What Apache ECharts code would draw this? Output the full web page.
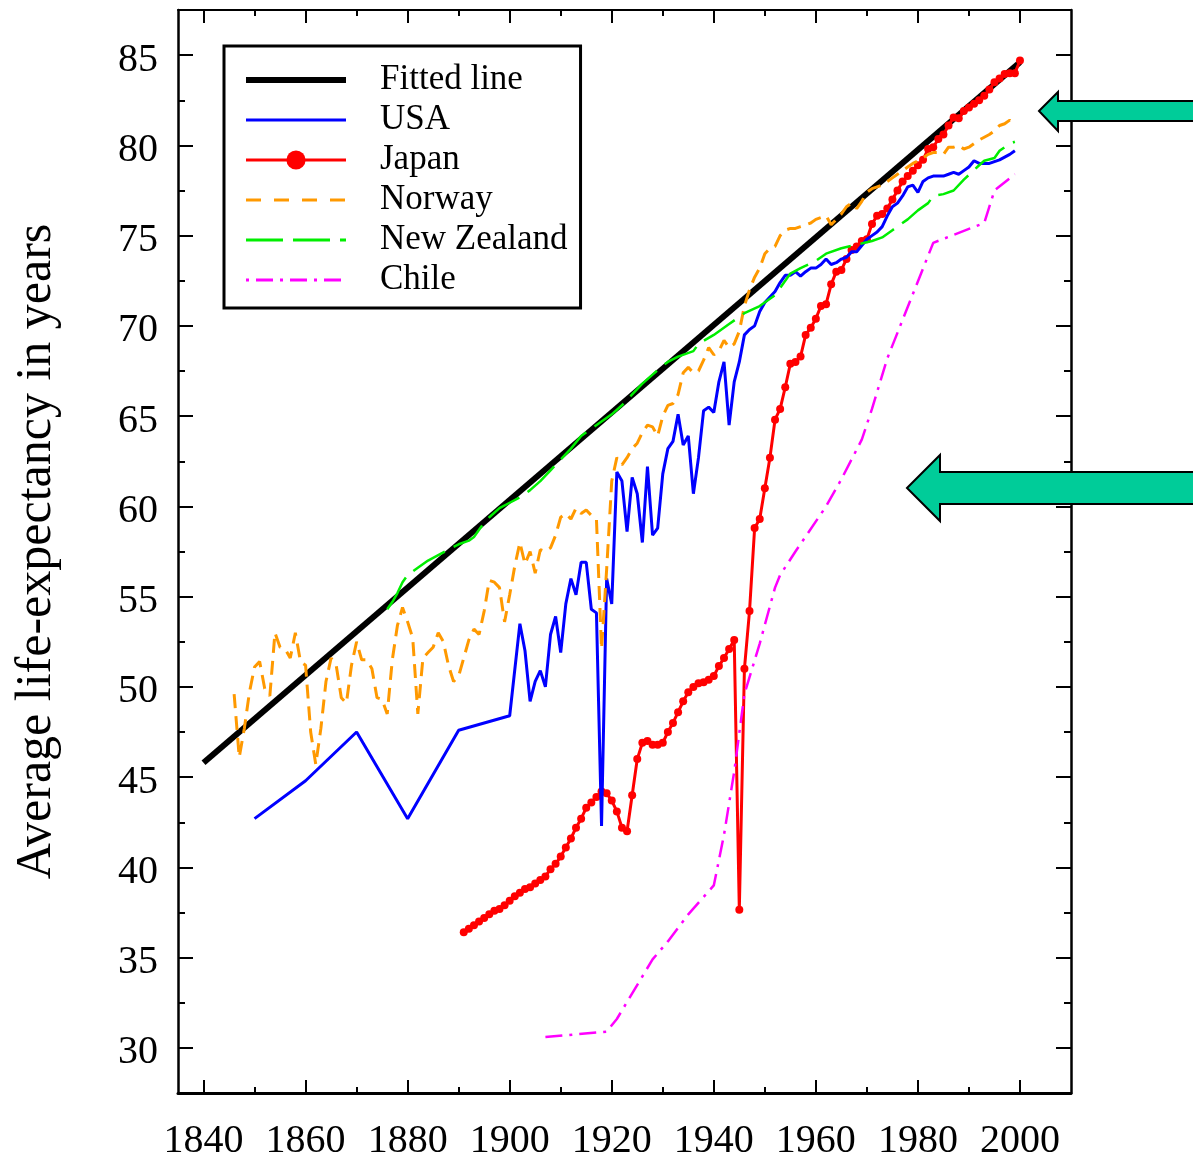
<!DOCTYPE html>
<html><head><meta charset="utf-8">
<script src="https://cdn.jsdelivr.net/npm/echarts@6/dist/echarts.min.js"></script>
<style>html,body{margin:0;padding:0;background:#fff;}#c{width:1193px;height:1156px;}</style>
</head><body><div id="c"></div>
<script>
// ---- data (year, life expectancy) ----
const fittedLine = [[1840,45.8],[2000,84.6]];
const usa = [[1850,42.7],[1860,44.8],[1870,47.5],[1880,42.7],[1890,47.6],[1900,48.4],[1902,53.5],[1903,52.0],[1904,49.2],[1905,50.3],[1906,50.9],[1907,50.0],[1908,52.9],[1909,53.9],[1910,51.9],[1911,54.6],[1912,56.0],[1913,55.1],[1914,56.9],[1915,56.9],[1916,54.3],[1917,54.1],[1918,42.3],[1919,56.0],[1920,54.6],[1921,61.9],[1922,61.4],[1923,58.6],[1924,61.6],[1925,60.7],[1926,58.0],[1927,62.2],[1928,58.4],[1929,58.8],[1930,61.8],[1931,63.2],[1932,63.6],[1933,65.1],[1934,63.4],[1935,63.9],[1936,60.7],[1937,62.7],[1938,65.3],[1939,65.5],[1940,65.2],[1941,66.9],[1942,68.0],[1943,64.5],[1944,66.9],[1945,68.0],[1946,69.5],[1947,69.8],[1948,70.0],[1949,70.8],[1950,71.3],[1951,71.6],[1952,71.9],[1953,72.4],[1954,72.8],[1955,72.8],[1956,73.0],[1957,72.75],[1958,73.0],[1959,73.2],[1960,73.2],[1961,73.4],[1962,73.7],[1963,73.4],[1964,73.5],[1965,73.7],[1966,73.8],[1967,74.1],[1968,74.1],[1969,74.45],[1970,74.8],[1971,75.0],[1972,75.2],[1973,75.5],[1974,76.1],[1975,76.6],[1976,76.8],[1977,77.2],[1978,77.7],[1979,77.8],[1980,77.4],[1981,78.0],[1982,78.2],[1983,78.3],[1984,78.3],[1985,78.3],[1986,78.4],[1987,78.5],[1988,78.4],[1989,78.6],[1990,78.8],[1991,79.15],[1992,79.0],[1993,79.0],[1994,79.0],[1995,79.1],[1996,79.2],[1997,79.35],[1998,79.5],[1999,79.7]];
const japan = [[1891,36.4],[1892,36.6],[1893,36.8],[1894,37.0],[1895,37.2],[1896,37.4],[1897,37.6],[1898,37.7],[1899,37.9],[1900,38.15],[1901,38.4],[1902,38.6],[1903,38.8],[1904,38.9],[1905,39.1],[1906,39.3],[1907,39.5],[1908,39.9],[1909,40.2],[1910,40.6],[1911,41.1],[1912,41.6],[1913,42.2],[1914,42.7],[1915,43.3],[1916,43.6],[1917,43.9],[1918,44.2],[1919,44.1],[1920,43.7],[1921,43.1],[1922,42.2],[1923,42.0],[1924,44.0],[1925,46.0],[1926,46.9],[1927,47.0],[1928,46.8],[1929,46.8],[1930,46.9],[1931,47.5],[1932,48.0],[1933,48.6],[1934,49.2],[1935,49.7],[1936,50.0],[1937,50.2],[1938,50.25],[1939,50.4],[1940,50.6],[1941,51.15],[1942,51.6],[1943,52.1],[1944,52.6],[1945,37.65],[1946,51.0],[1947,54.2],[1948,58.8],[1949,59.3],[1950,61.0],[1951,62.7],[1952,64.8],[1953,65.4],[1954,66.6],[1955,67.9],[1956,68.0],[1957,68.3],[1958,69.5],[1959,69.9],[1960,70.4],[1961,71.1],[1962,71.2],[1963,72.3],[1964,73.0],[1965,73.1],[1966,73.7],[1967,74.2],[1968,74.4],[1969,74.7],[1970,74.8],[1971,75.65],[1972,76.1],[1973,76.2],[1974,76.5],[1975,77.0],[1976,77.5],[1977,78.0],[1978,78.3],[1979,78.6],[1980,78.9],[1981,79.2],[1982,79.8],[1983,79.9],[1984,80.35],[1985,80.6],[1986,81.1],[1987,81.55],[1988,81.5],[1989,81.9],[1990,82.1],[1991,82.3],[1992,82.5],[1993,82.75],[1994,83.1],[1995,83.5],[1996,83.7],[1997,83.95],[1998,84.0],[1999,84.0],[2000,84.7]];
const norway = [[1846,49.6],[1847,46.1],[1848,47.7],[1849,49.7],[1850,51.1],[1851,51.4],[1852,49.9],[1853,49.5],[1854,53.0],[1855,52.2],[1856,52.1],[1857,51.6],[1858,53.0],[1859,51.4],[1860,51.2],[1861,47.5],[1862,45.7],[1863,47.7],[1864,50.3],[1865,51.6],[1866,51.2],[1867,49.4],[1868,49.1],[1869,51.2],[1870,52.5],[1871,51.5],[1872,51.5],[1873,51.0],[1874,49.4],[1875,49.3],[1876,48.5],[1877,51.5],[1878,53.4],[1879,54.4],[1880,53.6],[1881,52.7],[1882,48.5],[1883,51.6],[1884,51.9],[1885,52.2],[1886,53.0],[1887,52.5],[1888,51.2],[1889,50.3],[1890,50.6],[1891,51.6],[1892,52.6],[1893,53.2],[1894,52.9],[1895,54.2],[1896,55.9],[1897,55.8],[1898,55.5],[1899,53.6],[1900,55.1],[1901,56.7],[1902,58.0],[1903,56.8],[1904,57.5],[1905,56.3],[1906,57.6],[1907,57.5],[1908,57.7],[1909,58.4],[1910,59.4],[1911,59.6],[1912,59.3],[1913,59.9],[1914,59.6],[1915,59.8],[1916,59.5],[1917,59.3],[1918,52.1],[1919,56.5],[1920,61.4],[1921,62.7],[1922,62.3],[1923,62.7],[1924,63.2],[1925,63.5],[1926,64.1],[1927,64.5],[1928,64.4],[1929,63.9],[1930,65.0],[1931,65.6],[1932,65.7],[1933,66.2],[1934,67.4],[1935,67.7],[1936,67.4],[1937,67.5],[1938,68.1],[1939,68.8],[1940,68.4],[1941,68.6],[1942,69.2],[1943,68.8],[1944,69.0],[1945,69.7],[1946,71.1],[1947,72.0],[1948,72.7],[1949,73.2],[1950,74.0],[1951,74.3],[1952,74.4],[1953,75.0],[1954,75.3],[1955,75.4],[1956,75.4],[1957,75.5],[1958,75.6],[1959,75.7],[1960,75.9],[1961,76.0],[1962,76.1],[1963,75.6],[1964,75.9],[1965,76.2],[1966,76.6],[1967,76.8],[1968,76.5],[1969,76.9],[1970,77.4],[1971,77.6],[1972,77.7],[1973,77.8],[1974,78.0],[1975,78.2],[1976,78.4],[1977,78.6],[1978,78.8],[1979,79.0],[1980,79.15],[1981,79.3],[1982,79.5],[1983,79.6],[1984,79.6],[1985,79.5],[1986,79.9],[1987,79.9],[1988,80.0],[1989,79.8],[1990,79.9],[1991,80.1],[1992,80.3],[1993,80.45],[1994,80.6],[1995,80.8],[1996,81.1],[1997,81.2],[1998,81.4],[1999,81.2]];
const newZealand = [[1876,54.3],[1877,54.7],[1878,55.2],[1879,55.8],[1880,56.2],[1882,56.6],[1884,57.0],[1886,57.3],[1888,57.6],[1890,57.9],[1892,58.1],[1893,58.3],[1894,58.7],[1895,59.1],[1896,59.4],[1898,59.9],[1900,60.2],[1902,60.5],[1904,60.9],[1906,61.4],[1908,62.0],[1910,62.6],[1912,63.2],[1914,63.9],[1916,64.3],[1918,64.7],[1920,65.1],[1922,65.6],[1924,66.2],[1926,66.8],[1928,67.3],[1930,67.8],[1931,68.0],[1933,68.3],[1936,68.6],[1937,69.0],[1940,69.5],[1943,70.1],[1946,70.7],[1949,71.1],[1952,71.7],[1953,72.1],[1955,72.9],[1957,73.2],[1960,73.6],[1962,74.0],[1965,74.3],[1968,74.5],[1971,74.7],[1973,74.9],[1975,75.3],[1978,75.9],[1980,76.4],[1982,76.8],[1983,77.2],[1985,77.3],[1987,77.5],[1989,78.1],[1992,78.9],[1993,79.15],[1995,79.3],[1996,79.7],[1998,80.1],[1999,80.2]];
const chile = [[1907,30.6],[1919,30.9],[1921,31.6],[1928,34.9],[1931,35.9],[1935,37.4],[1940,39.0],[1942,41.8],[1944,45.3],[1946,49.6],[1949,52.4],[1952,55.5],[1953,56.2],[1956,57.5],[1962,60.0],[1965,61.5],[1969,63.7],[1971,65.4],[1974,68.2],[1983,74.6],[1993,75.7],[1995,77.5],[1999,78.4]];
const seriesNames = ['Fitted line','USA','Japan','Norway','New Zealand','Chile'];
// ---- axis ticks ----
const xMajorTicks = [1840,1860,1880,1900,1920,1940,1960,1980,2000];
const xMinorTicks = [1850,1870,1890,1910,1930,1950,1970,1990];
const yMajorTicks = [30,35,40,45,50,55,60,65,70,75,80,85];
const yMinorTicks = [32.5,37.5,42.5,47.5,52.5,57.5,62.5,67.5,72.5,77.5,82.5];
const yTitle = 'Average life-expectancy in years';

const FONT = 'Liberation Serif';
const X_MIN = 1835, X_MAX = 2010, Y_MIN = 27.5, Y_MAX = 87.5;

function xAxisDef(pos, ticks, len, showLine, labels) {
  return {
    type: 'value', position: pos, min: X_MIN, max: X_MAX,
    axisLine: {show: showLine, onZero: false, lineStyle: {color: '#000', width: pos === 'bottom' ? 3 : 2}},
    axisTick: {show: true, inside: true, length: len, customValues: ticks, lineStyle: {color: '#000', width: 2}},
    axisLabel: labels ? {show: true, customValues: ticks, formatter: v => String(v), fontFamily: FONT, fontSize: 40, color: '#000', margin: 28} : {show: false},
    splitLine: {show: false}
  };
}
function yAxisDef(pos, ticks, len, showLine, labels) {
  const a = {
    type: 'value', position: pos, min: Y_MIN, max: Y_MAX,
    axisLine: {show: showLine, onZero: false, lineStyle: {color: '#000', width: 2.5}},
    axisTick: {show: true, inside: true, length: len, customValues: ticks, lineStyle: {color: '#000', width: 2}},
    axisLabel: labels ? {show: true, customValues: ticks, formatter: v => String(v), fontFamily: FONT, fontSize: 40, color: '#000', margin: 20, verticalAlign: 'top', lineHeight: 10} : {show: false},
    splitLine: {show: false}
  };
  if (labels) {
    a.name = yTitle;
    a.nameLocation = 'middle';
    a.nameRotate = 90;
    a.nameGap = 116;
    a.nameTextStyle = {fontFamily: FONT, fontSize: 50, color: '#000', verticalAlign: 'bottom', lineHeight: 50};
  }
  return a;
}

const chart = echarts.init(document.getElementById('c'), null, {renderer: 'canvas'});
const option = {
  animation: false,
  backgroundColor: '#fff',
  grid: {left: 178, right: 122, top: 10, bottom: 63, containLabel: false, outerBoundsMode: 'none'},
  xAxis: [
    xAxisDef('bottom', xMajorTicks, 13, true, true),
    xAxisDef('bottom', xMinorTicks, 6, false, false),
    xAxisDef('top', xMajorTicks, 13, true, false),
    xAxisDef('top', xMinorTicks, 6, false, false)
  ],
  yAxis: [
    yAxisDef('left', yMajorTicks, 15, true, true),
    yAxisDef('left', yMinorTicks, 7, false, false),
    yAxisDef('right', yMajorTicks, 15, true, false),
    yAxisDef('right', yMinorTicks, 7, false, false)
  ],
  legend: {
    orient: 'vertical', left: 224, top: 46,
    data: [
      {name: seriesNames[0], itemStyle: {opacity: 0}, lineStyle: {width: 6}},
      {name: seriesNames[1], itemStyle: {opacity: 0}},
      {name: seriesNames[2]},
      {name: seriesNames[3], itemStyle: {opacity: 0}, lineStyle: {type: [15, 13]}},
      {name: seriesNames[4], itemStyle: {opacity: 0}},
      {name: seriesNames[5], itemStyle: {opacity: 0}, lineStyle: {type: [3, 7, 17, 7]}}
    ],
    itemWidth: 100, itemHeight: 24, itemGap: 0,
    lineStyle: {width: 3},
    textStyle: {fontFamily: FONT, fontSize: 35, color: '#000', lineHeight: 40, padding: [0, 0, 0, 29]},
    borderColor: '#000', borderWidth: 3, padding: [14, 13, 8, 19],
    backgroundColor: '#fff', selectedMode: false
  },
  series: [
    {name: seriesNames[0], type: 'line', data: fittedLine, symbol: 'none', lineStyle: {color: '#000', width: 6}, itemStyle: {color: '#000'}, z: 2},
    {name: seriesNames[1], type: 'line', data: usa, symbol: 'none', lineStyle: {color: '#0000FF', width: 3}, itemStyle: {color: '#0000FF'}, z: 4},
    {name: seriesNames[2], type: 'line', data: japan, symbol: 'circle', symbolSize: 8, showSymbol: true, lineStyle: {color: '#FF0000', width: 3}, itemStyle: {color: '#FF0000'}, z: 3},
    {name: seriesNames[3], type: 'line', data: norway, symbol: 'none', lineStyle: {color: '#FF9900', width: 3, type: [14, 8]}, itemStyle: {color: '#FF9900'}, z: 5},
    {name: seriesNames[4], type: 'line', data: newZealand, symbol: 'none', lineStyle: {color: '#00EE00', width: 2.5, type: [37, 10]}, itemStyle: {color: '#00EE00'}, z: 5},
    {name: seriesNames[5], type: 'line', data: chile, symbol: 'none', lineStyle: {color: '#FF00FF', width: 2.5, type: [17, 7, 3, 7]}, itemStyle: {color: '#FF00FF'}, z: 5}
  ],
  graphic: [
    {type: 'polygon', z: 100, shape: {points: [[1039,111],[1058,92],[1058,101],[1200,101],[1200,121],[1058,121],[1058,131]]}, style: {fill: '#00CC99', stroke: '#000', lineWidth: 2}},
    {type: 'polygon', z: 100, shape: {points: [[907,488],[940,455],[940,472],[1200,472],[1200,504],[940,504],[940,521]]}, style: {fill: '#00CC99', stroke: '#000', lineWidth: 2}}
  ]
};
chart.setOption(option);
</script>
</body></html>
